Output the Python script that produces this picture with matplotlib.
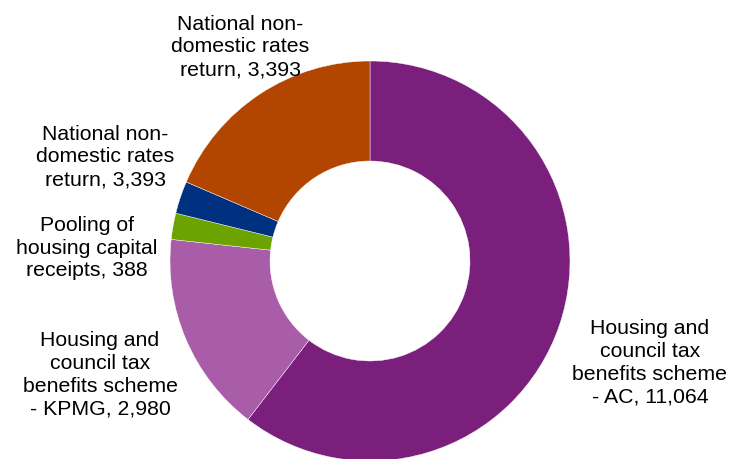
import matplotlib.pyplot as plt

# slices clockwise from 12 o'clock
categories = [
    'Housing and council tax benefits scheme - AC',
    'Housing and council tax benefits scheme - KPMG',
    'Pooling of housing capital receipts',
    'National non-domestic rates return (b)',
    'National non-domestic rates return',
]
values = [11064, 2980, 388, 480, 3393]
# label text as printed on the chart
labels = [
    'Housing and\ncouncil tax\nbenefits scheme\n- AC, 11,064',
    'Housing and\ncouncil tax\nbenefits scheme\n- KPMG, 2,980',
    'Pooling of\nhousing capital\nreceipts, 388',
    'National non-\ndomestic rates\nreturn, 3,393',
    'National non-\ndomestic rates\nreturn, 3,393',
]
colors = ['#7B1F7C', '#A95CA8', '#6CA300', '#003080', '#B24600']
label_pos = [(1.4, -0.505), (-1.35, -0.565), (-1.415, 0.07), (-1.325, 0.525), (-0.65, 1.075)]

plt.rcParams['font.family'] = ['Liberation Sans', 'DejaVu Sans']

fig = plt.figure(figsize=(7.29, 4.60), dpi=100)
ax = fig.add_axes([0, 0, 1, 1])
ax.pie(values, colors=colors, startangle=90, counterclock=False,
       radius=1.0, wedgeprops=dict(width=0.5, edgecolor='white', linewidth=0.3))

for txt, (x, y) in zip(labels, label_pos):
    ax.text(x, y, txt, ha='center', va='center', fontsize=15.3,
            linespacing=1.25, color='black')

ax.set_aspect('equal')
ax.set_xlim(-1.85, 1.795)
ax.set_ylim(-0.99, 1.31)
ax.axis('off')

fig.savefig('out.png', dpi=100)
